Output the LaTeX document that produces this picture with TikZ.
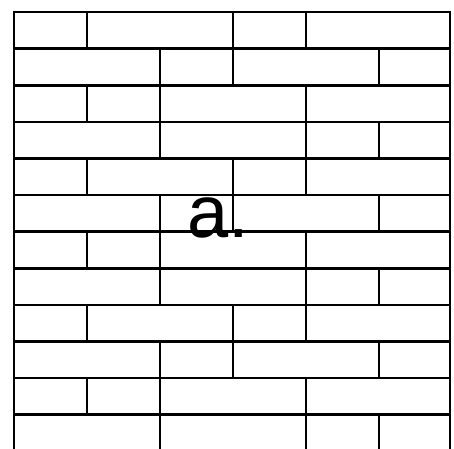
\documentclass[tikz,border=0pt]{standalone}
\usepackage{fontspec}
\usepackage{tikz}
\newfontfamily\labelfont{Liberation Sans}

\begin{document}
\begin{tikzpicture}[x=1pt,y=-1pt,line width=2.6pt,line join=miter]
  \useasboundingbox (0,0) rectangle (454,448);
  \clip (0,0) rectangle (454,448);
  % outer frame
  \draw (14,460) -- (14,12) -- (450,12) -- (450,460);
  % bed joints
  \draw (14,48.6) -- (450,48.6);
  \draw (14,85.2) -- (450,85.2);
  \draw (14,121.8) -- (450,121.8);
  \draw (14,158.4) -- (450,158.4);
  \draw (14,195.0) -- (450,195.0);
  \draw (14,231.6) -- (450,231.6);
  \draw (14,268.2) -- (450,268.2);
  \draw (14,304.8) -- (450,304.8);
  \draw (14,341.4) -- (450,341.4);
  \draw (14,378.0) -- (450,378.0);
  \draw (14,414.6) -- (450,414.6);
  % head joints, row by row
  \draw (87,12) -- (87,48.6) (233,12) -- (233,48.6) (306,12) -- (306,48.6);
  \draw (160,48.6) -- (160,85.2) (233,48.6) -- (233,85.2) (379,48.6) -- (379,85.2);
  \draw (87,85.2) -- (87,121.8) (160,85.2) -- (160,121.8) (306,85.2) -- (306,121.8);
  \draw (160,121.8) -- (160,158.4) (306,121.8) -- (306,158.4) (379,121.8) -- (379,158.4);
  \draw (87,158.4) -- (87,195.0) (233,158.4) -- (233,195.0) (306,158.4) -- (306,195.0);
  \draw (160,195.0) -- (160,231.6) (233,195.0) -- (233,231.6) (379,195.0) -- (379,231.6);
  \draw (87,231.6) -- (87,268.2) (160,231.6) -- (160,268.2) (306,231.6) -- (306,268.2);
  \draw (160,268.2) -- (160,304.8) (306,268.2) -- (306,304.8) (379,268.2) -- (379,304.8);
  \draw (87,304.8) -- (87,341.4) (233,304.8) -- (233,341.4) (306,304.8) -- (306,341.4);
  \draw (160,341.4) -- (160,378.0) (233,341.4) -- (233,378.0) (379,341.4) -- (379,378.0);
  \draw (87,378.0) -- (87,414.6) (160,378.0) -- (160,414.6) (306,378.0) -- (306,414.6);
  \draw (160,414.6) -- (160,460) (306,414.6) -- (306,460) (379,414.6) -- (379,460);
  % label
  \node[anchor=base west,inner sep=0pt,font=\labelfont\fontsize{74}{74}\selectfont] (lbl) at (186,237) {a.};
\end{tikzpicture}
\end{document}
